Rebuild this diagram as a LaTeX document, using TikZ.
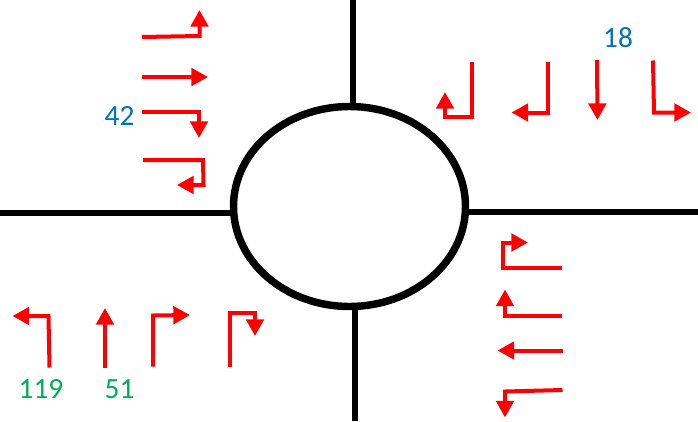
\documentclass[tikz,border=0pt]{standalone}
\usepackage{fontspec}
\setmainfont{Carlito}
\usetikzlibrary{arrows.meta, shapes.geometric}
\definecolor{countblue}{HTML}{0070C0}
\definecolor{countgreen}{HTML}{00B050}

\begin{document}
\begin{tikzpicture}[
  x=0.75pt, y=-0.75pt,
  road/.style={draw=black, line width=4.2pt},
  lane/.style={draw=red, line width=3pt, -{Triangle[length=12.5pt, width=13pt]}},
  cnt/.style={font=\fontsize{22}{24}\selectfont, inner sep=0pt}]
\useasboundingbox (0,0) rectangle (698,421);
\node[draw, ellipse, line width=5.6pt, minimum width=174pt, minimum height=150pt,
      inner sep=0pt, outer sep=0pt] (junction) at (349.5,206.5) {};
% road ends
\coordinate (nend) at (353,0);
\coordinate (eend) at (698,212);
\coordinate (send) at (355,421);
\coordinate (wend) at (0,213);
\draw[road] (nend) -- (junction.north -| nend);
\draw[road] (eend) -- (junction.east |- eend);
\draw[road] (send) -- (junction.south -| send);
\draw[road] (wend) -- (junction.west |- wend);
% turning movements
\foreach \mv in {
  {(142,37) -- (199.5,36) -- (199.5,10)},
  {(142,77) -- (208,77)},
  {(142,112) -- (199,112) -- (199,138)},
  {(143,160) -- (203,160) -- (203.5,185) -- (177,185)},
  {(471.5,62) -- (471.5,116.5) -- (445,116.5) -- (445,92)},
  {(548,62) -- (548,112.5) -- (511.5,112.5)},
  {(597,60) -- (597.5,120)},
  {(653,60.5) -- (654,112.5) -- (691,112.5)},
  {(49.5,367.5) -- (48.5,316) -- (12.5,316)},
  {(105,367.5) -- (105,308)},
  {(153,366.5) -- (153,315.5) -- (190,315)},
  {(229.5,366.5) -- (229.5,312.5) -- (255,312.5) -- (255,336)},
  {(561.5,267.5) -- (502.5,267.5) -- (502.5,242.5) -- (528,242.5)},
  {(561.5,315.5) -- (505,315.5) -- (505,289.5)},
  {(562.5,350.5) -- (497.5,350.5)},
  {(562.5,390) -- (505,391.5) -- (505,417.5)}}
  \draw[lane] \mv;
\node[cnt, text=countblue] (c42) at (119.5,116) {42};
\node[cnt, text=countblue] (c18) at (618,38) {18};
\node[cnt, text=countgreen] (c119) at (41,389) {119};
\node[cnt, text=countgreen] (c51) at (119.5,389) {51};
\end{tikzpicture}
\end{document}
